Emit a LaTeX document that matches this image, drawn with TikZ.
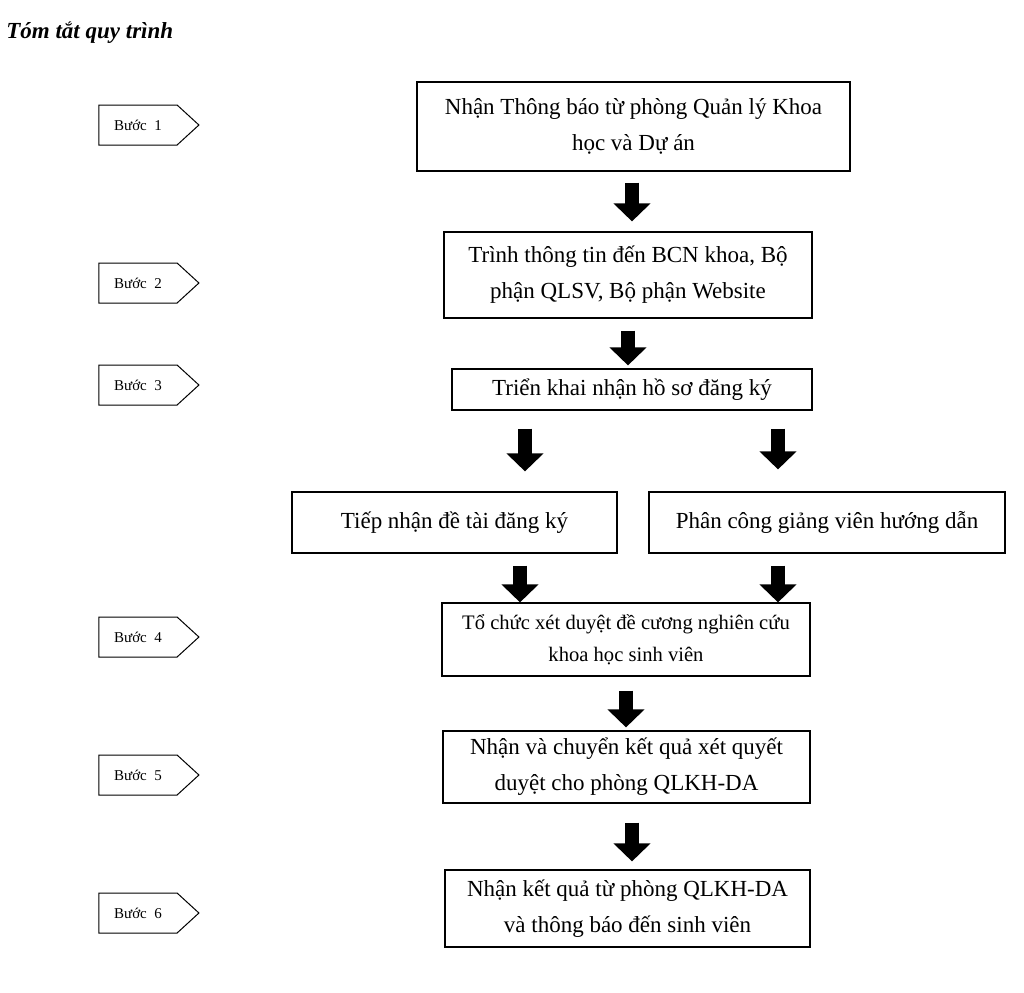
\documentclass[tikz,border=0pt]{standalone}
\usepackage{fontspec}
\setmainfont{Liberation Serif}
\usetikzlibrary{shapes.symbols,arrows.meta}

\tikzset{
	stepbox/.style={draw, line width=0.6pt, align=center, inner sep=2pt,
		font=\fontsize{11.5}{18}\selectfont},
	steptag/.style={draw, line width=0.5pt, shape=signal, signal to=east,
		signal pointer angle=85, minimum width=50pt, minimum height=20pt,
		inner sep=1pt, font=\fontsize{7.5}{9}\selectfont},
	bigarrow/.style={line width=7pt, -{Triangle[width=18pt,length=9pt]}}
}

\begin{document}
\begin{tikzpicture}[x=0.5pt, y=-0.5pt]
	\useasboundingbox (0,0) rectangle (1024,992);
	\node[anchor=west, inner sep=0pt, font=\fontsize{11.5}{14}\selectfont\bfseries\itshape] (title) at (6,33) {Tóm tắt quy trình};

	% cac buoc
	\foreach \n/\y in {1/125,2/283,3/385,4/637,5/775,6/913}
		\node[steptag] (s\n) at (138,\y) {Bước~~\n};

	% cac khung
	\node[stepbox, minimum width=216.5pt, minimum height=44.5pt] (b1) at (633.5,126.5) {Nhận Thông báo từ phòng Quản lý Khoa\\học và Dự án};
	\node[stepbox, minimum width=184pt, minimum height=43pt] (b2) at (628,275) {Trình thông tin đến BCN khoa, Bộ\\phận QLSV, Bộ phận Website};
	\node[stepbox, minimum width=180pt, minimum height=20.5pt] (b3) at (632,389.5) {Triển khai nhận hồ sơ đăng ký};
	\node[stepbox, minimum width=162.5pt, minimum height=30.5pt] (b4a) at (454.5,522.5) {Tiếp nhận đề tài đăng ký};
	\node[stepbox, minimum width=178pt, minimum height=30.5pt] (b4b) at (827,522.5) {Phân công giảng viên hướng dẫn};
	\node[stepbox, minimum width=184pt, minimum height=36.5pt, font=\fontsize{10.3}{16}\selectfont] (b5) at (626,639.5) {Tổ chức xét duyệt đề cương nghiên cứu\\khoa học sinh viên};
	\node[stepbox, minimum width=183.5pt, minimum height=36pt] (b6) at (626.5,767) {Nhận và chuyển kết quả xét quyết\\duyệt cho phòng QLKH-DA};
	\node[stepbox, minimum width=182.5pt, minimum height=38.5pt] (b7) at (627.5,908.5) {Nhận kết quả từ phòng QLKH-DA\\và thông báo đến sinh viên};

	% mui ten
	\coordinate (xa) at (525,0);
	\coordinate (xb) at (778,0);
	\coordinate (xc) at (520,0);
	\draw[bigarrow, shorten <=5.5pt, shorten >=5pt] (b1.south -| 632,0) -- (b2.north -| 632,0);
	\draw[bigarrow, shorten <=6pt, shorten >=1.5pt] (b2.south) -- (b3.north -| b2.south);
	\draw[bigarrow, shorten <=9pt, shorten >=10pt] (b3.south -| xa) -- (b4a.north -| xa);
	\draw[bigarrow, shorten <=9pt, shorten >=11pt] (b3.south -| xb) -- (b4b.north -| xb);
	\draw[bigarrow, shorten <=6pt, shorten >=0pt] (b4a.south -| xc) -- (b5.north -| xc);
	\draw[bigarrow, shorten <=6pt, shorten >=0pt] (b4b.south -| xb) -- (b5.north -| xb);
	\draw[bigarrow, shorten <=7pt, shorten >=1.5pt] (b5.south) -- (b6.north -| b5.south);
	\draw[bigarrow, shorten <=9.5pt, shorten >=4pt] (b6.south -| 632,0) -- (b7.north -| 632,0);
\end{tikzpicture}
\end{document}
